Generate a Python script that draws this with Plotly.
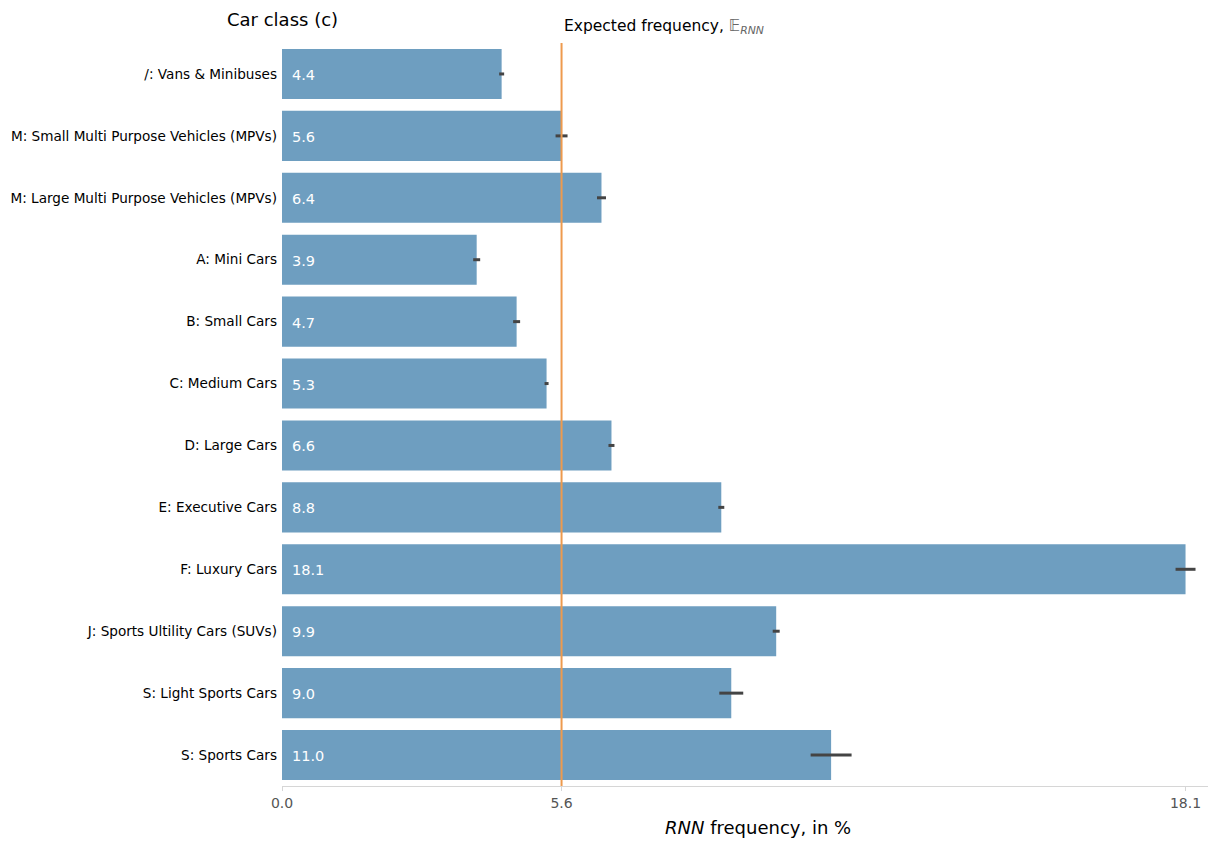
import plotly.graph_objects as go

# Car classes, listed top to bottom
categories = [
    "/: Vans & Minibuses",
    "M: Small Multi Purpose Vehicles (MPVs)",
    "M: Large Multi Purpose Vehicles (MPVs)",
    "A: Mini Cars",
    "B: Small Cars",
    "C: Medium Cars",
    "D: Large Cars",
    "E: Executive Cars",
    "F: Luxury Cars",
    "J: Sports Ultility Cars (SUVs)",
    "S: Light Sports Cars",
    "S: Sports Cars",
]
# RNN frequency in % and its uncertainty (half-width)
frequency = [4.4, 5.6, 6.4, 3.9, 4.7, 5.3, 6.6, 8.8, 18.1, 9.9, 9.0, 11.0]
uncertainty = [0.05, 0.12, 0.09, 0.07, 0.07, 0.04, 0.06, 0.06, 0.2, 0.07, 0.24, 0.41]
expected = 5.6
x_ticks = [0.0, 5.6, 18.1]

FONT = "DejaVu Sans"
BAR = "#6E9EC0"
ORANGE = "#EE9A4D"

fig = go.Figure()
fig.add_trace(go.Bar(
    y=categories,
    x=frequency,
    orientation="h",
    marker=dict(color=BAR, line=dict(width=0)),
    error_x=dict(type="data", array=uncertainty, symmetric=True,
                 color="#444444", thickness=3, width=0),
    hoverinfo="x+y",
))

# value labels inside the bars, anchored at the bar base
for cat, val in zip(categories, frequency):
    fig.add_annotation(x=0, y=cat, xref="x", yref="y", text=f"{val:.1f}",
                       xanchor="left", yanchor="middle", xshift=8, yshift=-1, showarrow=False,
                       font=dict(family=FONT, size=14.5, color="white"))

# expected frequency reference line
fig.add_shape(type="line", xref="x", yref="paper", x0=expected, x1=expected,
              y0=0, y1=1, line=dict(color=ORANGE, width=2), layer="above")
fig.add_annotation(xref="x", yref="paper", x=expected, y=1.0, yshift=16,
                   xanchor="left", yanchor="middle", showarrow=False,
                   text="Expected frequency, <span style='color:#666'><i>𝔼</i><sub><i>RNN</i></sub></span>",
                   font=dict(family=FONT, size=15.5, color="black"))

# axis titles
fig.add_annotation(xref="paper", yref="paper", x=0.0, y=1.0, yshift=24,
                   xanchor="center", yanchor="middle", showarrow=False,
                   text="Car class (c)", font=dict(family=FONT, size=18, color="black"))
fig.add_annotation(xref="paper", yref="paper", x=0.514, y=0, yshift=-41,
                   xanchor="center", yanchor="middle", showarrow=False,
                   text="<i>RNN</i> frequency, in %", font=dict(family=FONT, size=18, color="black"))

fig.update_layout(
    width=1208, height=842,
    margin=dict(l=282, r=0, t=43, b=56),
    paper_bgcolor="white", plot_bgcolor="white",
    bargap=0.19,
    showlegend=False,
    font=dict(family=FONT),
    xaxis=dict(range=[0, 18.55], tickvals=x_ticks, ticktext=[f"{v:.1f}" for v in x_ticks],
               showgrid=False, zeroline=False, showline=True, linecolor="#D6D6D6", linewidth=1,
               ticks="outside", ticklen=4, tickcolor="#D6D6D6",
               tickfont=dict(family=FONT, size=14, color="#555555")),
    yaxis=dict(range=[11.5, -0.5], showgrid=False, zeroline=False, showline=False,
               ticks="", ticklabelstandoff=4,
               tickfont=dict(family=FONT, size=13.6, color="black")),
)

fig.write_html("out.html")
